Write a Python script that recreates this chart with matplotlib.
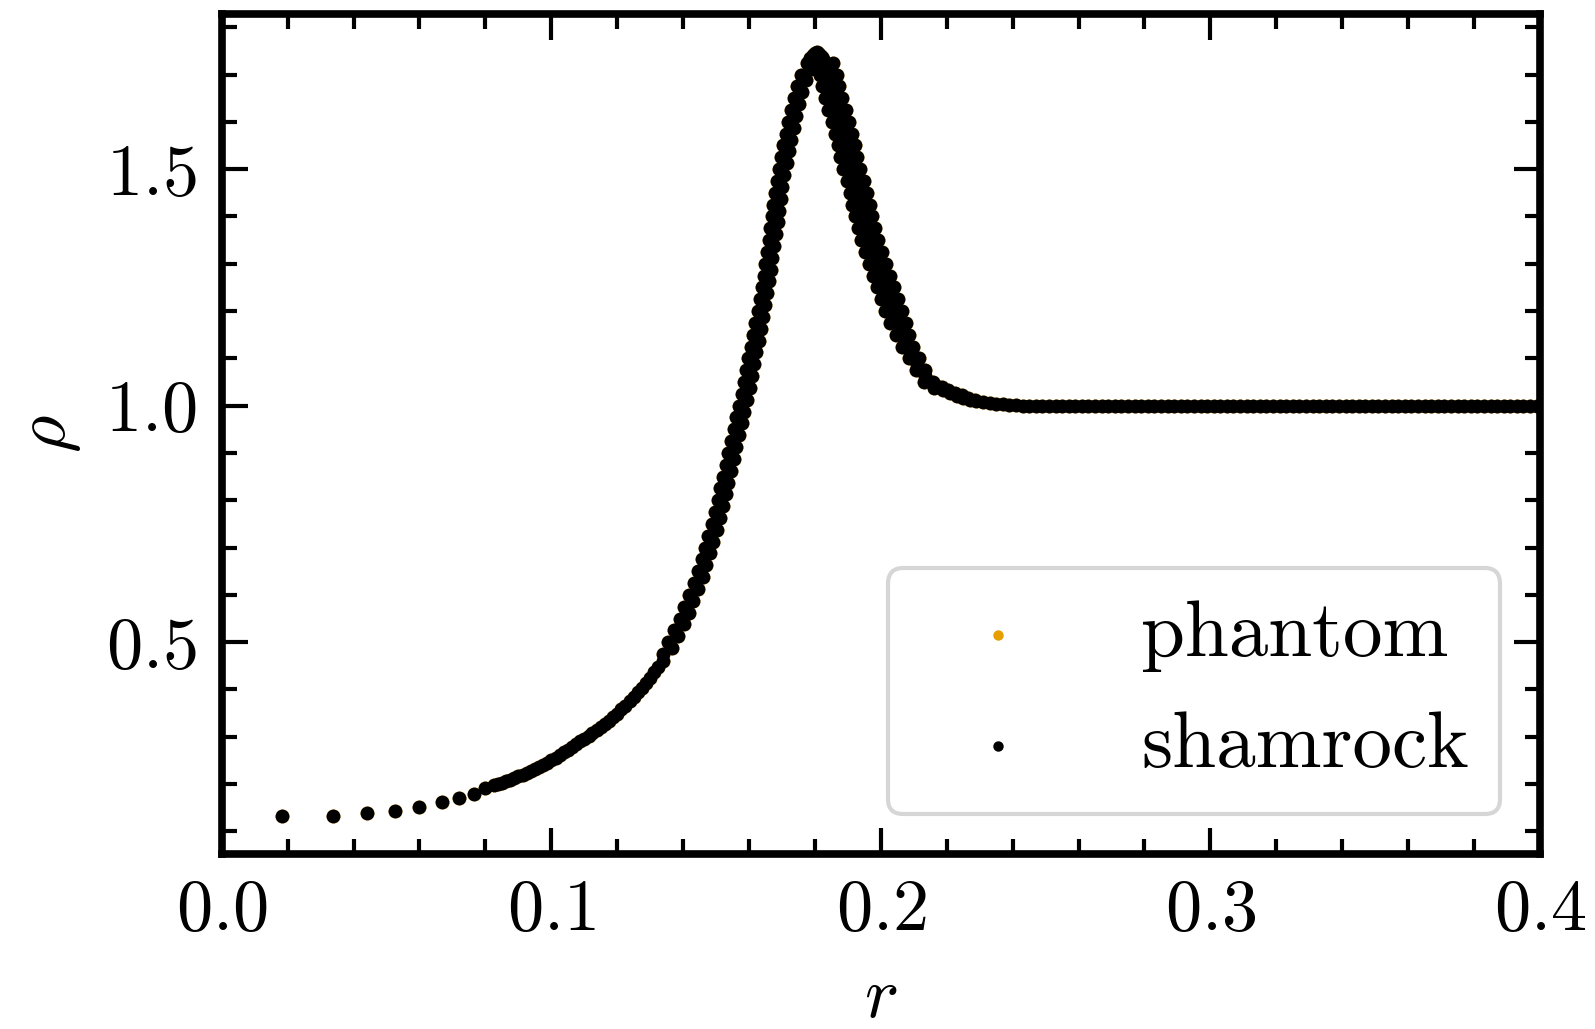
import matplotlib
matplotlib.use("Agg")
import matplotlib.pyplot as plt
from matplotlib.ticker import MultipleLocator

# density profile, phantom and shamrock overlap almost exactly

# sparse inner particles
low_r = [0.0184, 0.0339, 0.0440, 0.0527, 0.0600, 0.0669, 0.0719, 0.0766]
low_rho = [0.132, 0.132, 0.138, 0.143, 0.152, 0.162, 0.170, 0.180]

# shallow part of the rise
shallow_r = [0.0800, 0.0825, 0.0850, 0.0875, 0.0900, 0.0925, 0.0950, 0.0975,
             0.1000, 0.1025, 0.1050, 0.1075, 0.1100, 0.1125, 0.1150, 0.1175,
             0.1200, 0.1225, 0.1250, 0.1275, 0.1300, 0.1325,
             0.0838, 0.0863, 0.0888, 0.0913, 0.0938, 0.0963, 0.0988, 0.1013,
             0.1038, 0.1063, 0.1088, 0.1113, 0.1138, 0.1163, 0.1188, 0.1213,
             0.1238, 0.1263, 0.1288, 0.1313, 0.1338]
shallow_rho = [0.191, 0.197, 0.203, 0.209, 0.216, 0.223, 0.231, 0.240,
               0.250, 0.261, 0.273, 0.284, 0.295, 0.307, 0.320, 0.334,
               0.349, 0.366, 0.384, 0.403, 0.424, 0.448,
               0.200, 0.206, 0.213, 0.220, 0.227, 0.236, 0.245, 0.256,
               0.267, 0.279, 0.290, 0.301, 0.314, 0.327, 0.342, 0.358,
               0.375, 0.394, 0.414, 0.436, 0.460]

# steep rise, left edge of the band
rise_rho = [0.475, 0.500, 0.525, 0.550, 0.575, 0.600, 0.625, 0.650, 0.675,
            0.700, 0.725, 0.750, 0.775, 0.800, 0.825, 0.850, 0.875, 0.900,
            0.925, 0.950, 0.975, 1.000, 1.025, 1.050, 1.075, 1.100, 1.125,
            1.150, 1.175, 1.200, 1.225, 1.250, 1.275, 1.300, 1.325, 1.350,
            1.375, 1.400, 1.425, 1.450, 1.475, 1.500, 1.525, 1.550, 1.575,
            1.600, 1.625, 1.650, 1.675, 1.700, 1.725]
rise_r = [0.1338, 0.1355, 0.1373, 0.1390, 0.1404, 0.1418, 0.1432, 0.1445,
          0.1456, 0.1467, 0.1477, 0.1487, 0.1496, 0.1505, 0.1513, 0.1520,
          0.1529, 0.1537, 0.1545, 0.1553, 0.1562, 0.1570, 0.1578, 0.1585,
          0.1591, 0.1597, 0.1605, 0.1612, 0.1619, 0.1626, 0.1633, 0.1639,
          0.1644, 0.1648, 0.1654, 0.1660, 0.1665, 0.1670, 0.1674, 0.1678,
          0.1684, 0.1690, 0.1697, 0.1704, 0.1711, 0.1718, 0.1726, 0.1735,
          0.1745, 0.1758, 0.1775]

# steep rise, right edge of the band
rise2_rho = [0.4875, 0.5125, 0.5375, 0.5625, 0.5875, 0.6125, 0.6375, 0.6625,
             0.6875, 0.7125, 0.7375, 0.7625, 0.7875, 0.8125, 0.8375, 0.8625,
             0.8875, 0.9125, 0.9375, 0.9625, 0.9875, 1.0125, 1.0375, 1.0625,
             1.0875, 1.1125, 1.1375, 1.1625, 1.1875, 1.2125, 1.2375, 1.2625,
             1.2875, 1.3125, 1.3375, 1.3625, 1.3875, 1.4125, 1.4375, 1.4625,
             1.4875, 1.5125, 1.5375, 1.5625, 1.5875, 1.6125, 1.6375, 1.6625,
             1.6875, 1.7125]
rise2_r = [0.1367, 0.1384, 0.1402, 0.1417, 0.1431, 0.1445, 0.1459, 0.1471,
           0.1482, 0.1492, 0.1502, 0.1512, 0.1521, 0.1529, 0.1537, 0.1545,
           0.1553, 0.1561, 0.1569, 0.1578, 0.1586, 0.1594, 0.1602, 0.1608,
           0.1614, 0.1621, 0.1629, 0.1636, 0.1643, 0.1650, 0.1656, 0.1662,
           0.1666, 0.1671, 0.1677, 0.1683, 0.1688, 0.1692, 0.1696, 0.1701,
           0.1707, 0.1714, 0.1721, 0.1728, 0.1735, 0.1742, 0.1751, 0.1760,
           0.1772, 0.1787]

# peak
peak_r = [0.1785, 0.1795, 0.1800, 0.1805, 0.1810, 0.1815, 0.1820, 0.1825, 0.1800, 0.1812]
peak_rho = [1.735, 1.742, 1.745, 1.747, 1.746, 1.742, 1.738, 1.732, 1.725, 1.728]

# post-shock fall, inner and outer edge of the wider band
fall_rho = [1.725, 1.700, 1.675, 1.650, 1.625, 1.600, 1.575, 1.550, 1.525,
            1.500, 1.475, 1.450, 1.425, 1.400, 1.375, 1.350, 1.325, 1.300,
            1.275, 1.250, 1.225, 1.200, 1.175, 1.150, 1.125, 1.100, 1.075, 1.050]
fall_r_inner = [0.1802, 0.1814, 0.1822, 0.1831, 0.1841, 0.1851, 0.1860, 0.1869,
                0.1877, 0.1886, 0.1896, 0.1906, 0.1914, 0.1922, 0.1931, 0.1940,
                0.1951, 0.1963, 0.1975, 0.1987, 0.1999, 0.2012, 0.2027, 0.2045,
                0.2065, 0.2085, 0.2106, 0.2132]
fall_r_outer = [0.1854, 0.1866, 0.1874, 0.1883, 0.1893, 0.1903, 0.1912, 0.1921,
                0.1929, 0.1938, 0.1948, 0.1958, 0.1966, 0.1974, 0.1983, 0.1992,
                0.2003, 0.2015, 0.2027, 0.2039, 0.2051, 0.2064, 0.2075, 0.2085,
                0.2099, 0.2115, 0.2134, 0.2158]

# post-shock fall, middle of the band
fall_mid_rho = [1.7125, 1.6875, 1.6625, 1.6375, 1.6125, 1.5875, 1.5625, 1.5375,
                1.5125, 1.4875, 1.4625, 1.4375, 1.4125, 1.3875, 1.3625, 1.3375,
                1.3125, 1.2875, 1.2625, 1.2375, 1.2125, 1.1875, 1.1625, 1.1375,
                1.1125, 1.0875, 1.0625, 1.0375]
fall_mid_r = [0.1834, 0.1844, 0.1853, 0.1862, 0.1872, 0.1882, 0.1891, 0.1899,
              0.1908, 0.1917, 0.1927, 0.1936, 0.1944, 0.1953, 0.1962, 0.1972,
              0.1983, 0.1995, 0.2007, 0.2019, 0.2032, 0.2045, 0.2058, 0.2074,
              0.2091, 0.2110, 0.2133, 0.2162]

# approach to the ambient density
tail_r = [0.2175, 0.2190, 0.2210, 0.2230, 0.2250, 0.2270, 0.2290, 0.2310,
          0.2330, 0.2350, 0.2370, 0.2390, 0.2410,
          0.2185, 0.2205, 0.2225, 0.2245, 0.2265, 0.2285]
tail_rho = [1.040, 1.034, 1.027, 1.021, 1.017, 1.013, 1.010, 1.007,
            1.005, 1.004, 1.003, 1.002, 1.001,
            1.040, 1.033, 1.027, 1.022, 1.017, 1.013]

# ambient medium
flat_r = [0.243, 0.245, 0.247, 0.249, 0.251, 0.253, 0.255, 0.257, 0.259, 0.261,
          0.263, 0.265, 0.267, 0.269, 0.271, 0.273, 0.275, 0.277, 0.279, 0.281,
          0.283, 0.285, 0.287, 0.289, 0.291, 0.293, 0.295, 0.297, 0.299, 0.301,
          0.303, 0.305, 0.307, 0.309, 0.311, 0.313, 0.315, 0.317, 0.319, 0.321,
          0.323, 0.325, 0.327, 0.329, 0.331, 0.333, 0.335, 0.337, 0.339, 0.341,
          0.343, 0.345, 0.347, 0.349, 0.351, 0.353, 0.355, 0.357, 0.359, 0.361,
          0.363, 0.365, 0.367, 0.369, 0.371, 0.373, 0.375, 0.377, 0.379, 0.381,
          0.383, 0.385, 0.387, 0.389, 0.391, 0.393, 0.395, 0.397, 0.399]
flat_rho = [1.0, 1.0, 1.0, 1.0, 1.0, 1.0, 1.0, 1.0, 1.0, 1.0,
            1.0, 1.0, 1.0, 1.0, 1.0, 1.0, 1.0, 1.0, 1.0, 1.0,
            1.0, 1.0, 1.0, 1.0, 1.0, 1.0, 1.0, 1.0, 1.0, 1.0,
            1.0, 1.0, 1.0, 1.0, 1.0, 1.0, 1.0, 1.0, 1.0, 1.0,
            1.0, 1.0, 1.0, 1.0, 1.0, 1.0, 1.0, 1.0, 1.0, 1.0,
            1.0, 1.0, 1.0, 1.0, 1.0, 1.0, 1.0, 1.0, 1.0, 1.0,
            1.0, 1.0, 1.0, 1.0, 1.0, 1.0, 1.0, 1.0, 1.0, 1.0,
            1.0, 1.0, 1.0, 1.0, 1.0, 1.0, 1.0, 1.0, 1.0]

r = (low_r + shallow_r + rise_r + rise2_r + peak_r
     + fall_r_inner + fall_mid_r + fall_r_outer + tail_r + flat_r)
rho = (low_rho + shallow_rho + rise_rho + rise2_rho + peak_rho
       + fall_rho + fall_mid_rho + fall_rho + tail_rho + flat_rho)

plt.rcParams["font.family"] = "serif"
plt.rcParams["font.serif"] = ["cmr10"]
plt.rcParams["mathtext.fontset"] = "cm"
plt.rcParams["axes.formatter.use_mathtext"] = True
plt.rcParams["font.size"] = 52

fig, ax = plt.subplots(figsize=(15.95, 10.29), dpi=100)
fig.subplots_adjust(left=0.139, right=0.9655, top=0.9864, bottom=0.170)

ax.scatter(r, rho, s=100, color="#E69F00", linewidths=0, label="phantom")
ax.scatter(r, rho, s=100, color="black", linewidths=0, label="shamrock")

ax.set_xlim(0.0, 0.4)
ax.set_ylim(0.052, 1.828)
ax.xaxis.set_major_locator(MultipleLocator(0.1))
ax.xaxis.set_minor_locator(MultipleLocator(0.02))
ax.yaxis.set_major_locator(MultipleLocator(0.5))
ax.yaxis.set_minor_locator(MultipleLocator(0.1))
ax.tick_params(which="both", direction="in", top=True, right=True, width=3)
ax.tick_params(which="major", length=19, pad=18)
ax.tick_params(which="minor", length=11)
for sp in ax.spines.values():
    sp.set_linewidth(5.5)

ax.set_xlabel(r"$r$", labelpad=16)
ax.set_ylabel(r"$\rho$", labelpad=16)
leg = ax.legend(loc="lower right", markerscale=0.75, fontsize=57)
leg.get_frame().set_linewidth(3)

fig.savefig("out.png", dpi=100)
